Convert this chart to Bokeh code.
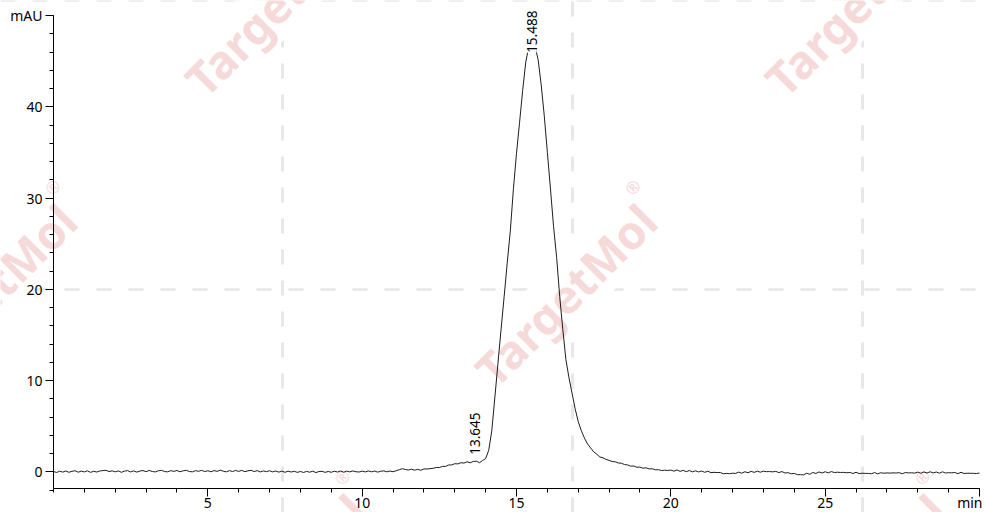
import math
from bokeh.plotting import figure
from bokeh.models import Range1d, FixedTicker, Label
from bokeh.models import ColumnDataSource
from bokeh.embed import file_html
from bokeh.resources import INLINE

# ---------------- data ----------------
time_min = [
    0.0, 0.1, 0.2, 0.3, 0.4, 0.5, 0.6, 0.7, 0.8, 0.9,
    1.0, 1.1, 1.2, 1.3, 1.4, 1.5, 1.6, 1.7, 1.8, 1.9,
    2.0, 2.1, 2.2, 2.3, 2.4, 2.5, 2.6, 2.7, 2.8, 2.9,
    3.0, 3.1, 3.2, 3.3, 3.4, 3.5, 3.6, 3.7, 3.8, 3.9,
    4.0, 4.1, 4.2, 4.3, 4.4, 4.5, 4.6, 4.7, 4.8, 4.9,
    5.0, 5.1, 5.2, 5.3, 5.4, 5.5, 5.6, 5.7, 5.8, 5.9,
    6.0, 6.1, 6.2, 6.3, 6.4, 6.5, 6.6, 6.7, 6.8, 6.9,
    7.0, 7.1, 7.2, 7.3, 7.4, 7.5, 7.6, 7.7, 7.8, 7.9,
    8.0, 8.1, 8.2, 8.3, 8.4, 8.5, 8.6, 8.7, 8.8, 8.9,
    9.0, 9.1, 9.2, 9.3, 9.4, 9.5, 9.6, 9.7, 9.8, 9.9,
    10.0, 10.1, 10.2, 10.3, 10.4, 10.5, 10.6, 10.7, 10.8, 10.9,
    11.0, 11.1, 11.2, 11.3, 11.4, 11.5, 11.6, 11.7, 11.8, 11.9,
    12.0, 12.1, 12.2, 12.3, 12.4, 12.5, 12.6, 12.7, 12.8, 12.9,
    13.0, 13.1, 13.2, 13.3, 13.4, 13.5, 13.6, 13.7, 13.8, 13.9,
    14.0, 14.1, 14.2, 14.3, 14.4, 14.5, 14.6, 14.7, 14.8, 14.9,
    15.0, 15.1, 15.2, 15.3, 15.4, 15.5, 15.6, 15.7, 15.8, 15.9,
    16.0, 16.1, 16.2, 16.3, 16.4, 16.5, 16.6, 16.7, 16.8, 16.9,
    17.0, 17.1, 17.2, 17.3, 17.4, 17.5, 17.6, 17.7, 17.8, 17.9,
    18.0, 18.1, 18.2, 18.3, 18.4, 18.5, 18.6, 18.7, 18.8, 18.9,
    19.0, 19.1, 19.2, 19.3, 19.4, 19.5, 19.6, 19.7, 19.8, 19.9,
    20.0, 20.1, 20.2, 20.3, 20.4, 20.5, 20.6, 20.7, 20.8, 20.9,
    21.0, 21.1, 21.2, 21.3, 21.4, 21.5, 21.6, 21.7, 21.8, 21.9,
    22.0, 22.1, 22.2, 22.3, 22.4, 22.5, 22.6, 22.7, 22.8, 22.9,
    23.0, 23.1, 23.2, 23.3, 23.4, 23.5, 23.6, 23.7, 23.8, 23.9,
    24.0, 24.1, 24.2, 24.3, 24.4, 24.5, 24.6, 24.7, 24.8, 24.9,
    25.0, 25.1, 25.2, 25.3, 25.4, 25.5, 25.6, 25.7, 25.8, 25.9,
    26.0, 26.1, 26.2, 26.3, 26.4, 26.5, 26.6, 26.7, 26.8, 26.9,
    27.0, 27.1, 27.2, 27.3, 27.4, 27.5, 27.6, 27.7, 27.8, 27.9,
    28.0, 28.1, 28.2, 28.3, 28.4, 28.5, 28.6, 28.7, 28.8, 28.9,
    29.0, 29.1, 29.2, 29.3, 29.4, 29.5, 29.6, 29.7, 29.8, 29.9,
    30.0,
]
signal_mau = [
    0.03, -0.08, 0.06, -0.04, 0.09, -0.06, 0.05, 0.11, -0.05, 0.07,
    -0.02, 0.10, -0.07, 0.05, -0.03, 0.08, 0.13, 0.16, 0.02, 0.10,
    -0.01, 0.09, -0.06, 0.07, 0.12, -0.02, 0.09, -0.04, 0.08, 0.13,
    0.01, 0.14, 0.03, -0.02, 0.11, 0.15, 0.02, -0.01, 0.12, 0.04,
    0.14, 0.00, 0.10, 0.16, 0.03, -0.01, 0.12, 0.05, 0.15, 0.02,
    0.11, 0.00, 0.13, 0.04, 0.17, 0.06, -0.01, 0.12, 0.03, 0.14,
    0.04, 0.15, 0.01, 0.10, 0.16, 0.02, 0.12, -0.02, 0.09, 0.01,
    0.11, -0.01, 0.08, -0.04, 0.07, -0.06, 0.06, -0.03, 0.05, -0.07,
    0.03, -0.08, 0.04, -0.05, 0.06, -0.09, 0.02, 0.05, -0.07, 0.03,
    -0.06, 0.06, -0.03, 0.08, -0.05, 0.07, -0.02, 0.09, 0.00, -0.03,
    0.07, -0.02, 0.09, -0.01, 0.08, -0.04, 0.05, 0.10, -0.01, 0.08,
    0.00, 0.11, 0.22, 0.33, 0.25, 0.19, 0.28, 0.17, 0.26, 0.16,
    0.31, 0.30, 0.34, 0.38, 0.47, 0.46, 0.59, 0.58, 0.74, 0.75,
    0.88, 0.86, 0.99, 0.95, 1.10, 0.98, 1.13, 1.16, 0.99, 1.22,
    1.45, 2.35, 4.50, 8.20, 11.90, 15.60, 19.20, 22.90, 26.40, 31.00,
    34.90, 38.30, 41.80, 44.90, 46.60, 47.00, 46.60, 45.20, 42.40, 39.00,
    35.00, 31.00, 26.90, 23.50, 19.20, 15.60, 12.30, 10.30, 8.60, 6.90,
    5.50, 4.50, 3.70, 3.05, 2.62, 2.18, 1.92, 1.62, 1.53, 1.35,
    1.25, 1.12, 1.09, 0.96, 0.93, 0.79, 0.75, 0.61, 0.63, 0.49,
    0.51, 0.39, 0.43, 0.31, 0.33, 0.21, 0.23, 0.13, 0.17, 0.14,
    0.19, 0.06, 0.20, 0.04, 0.15, 0.01, 0.13, -0.01, 0.10, -0.02,
    0.08, -0.06, 0.06, -0.10, -0.06, -0.09, -0.08, -0.22, -0.18, -0.21,
    -0.16, -0.18, -0.04, -0.16, 0.00, -0.11, 0.04, -0.07, 0.07, -0.05,
    0.06, 0.01, 0.02, -0.01, 0.04, -0.09, 0.02, -0.14, -0.10, -0.22,
    -0.18, -0.32, -0.32, -0.34, -0.16, -0.28, -0.08, -0.19, -0.02, -0.14,
    0.00, -0.12, 0.02, -0.09, -0.05, -0.08, -0.07, -0.11, -0.08, -0.19,
    -0.06, -0.20, -0.16, -0.18, -0.18, -0.22, -0.09, -0.23, -0.11, -0.16,
    -0.13, -0.15, -0.12, -0.14, -0.10, -0.22, -0.08, -0.13, -0.11, -0.15,
    -0.04, -0.17, -0.02, -0.14, 0.00, -0.13, -0.03, -0.16, -0.01, -0.14,
    -0.10, -0.12, -0.08, -0.21, -0.06, -0.19, -0.16, -0.17, -0.17, -0.20,
    -0.14,
]
peak_times = [13.645, 15.488]
peak_heights = [1.1, 47.0]
peak_names = ["13.645", "15.488"]

x_ticks = [5, 10, 15, 20, 25, 30]
x_tick_labels = ["5", "10", "15", "20", "25", ""]
x_minor_ticks = list(range(0, 31))
x_unit = "min"
y_ticks = [0, 10, 20, 30, 40, 50]
y_tick_labels = ["0", "10", "20", "30", "40", "mAU"]
y_minor_ticks = list(range(-2, 51, 2))
watermark_text = "TargetMol"

# ---------------- layout constants (pixels) ----------------
W, H = 984, 512
PAD_L, PAD_R, PAD_T = 53, 5, 15          # axis corner / ends in canvas px
X0, X1 = 0.0, 30.0                          # time axis extent
Y0, Y1 = -1.86, 50.0                        # signal axis extent
PPX = (W - PAD_L - PAD_R) / (X1 - X0)      # px per minute
PPY = 9.125                                 # px per mAU
FONT = "Noto Sans"
WM_COLOR = "#f6d9d9"

x_range = Range1d(X0 - PAD_L / PPX, X1 + PAD_R / PPX)
y_range = Range1d(Y1 - (H - PAD_T) / PPY, Y1 + PAD_T / PPY)

p = figure(width=W, height=H, output_backend="svg", toolbar_location=None,
           x_range=x_range, y_range=y_range,
           min_border=0, min_border_left=0, min_border_right=0,
           min_border_top=0, min_border_bottom=0)
p.outline_line_color = None
p.background_fill_color = "white"
p.border_fill_color = "white"

# watermark grid: light dashed lines (via the plot grids)
p.xgrid.ticker = FixedTicker(ticks=[7.42, 16.81, 26.2])
p.xgrid.grid_line_color = "#e8e8e8"
p.xgrid.grid_line_width = 3
p.xgrid.grid_line_dash = "15 16"
p.ygrid.ticker = FixedTicker(ticks=[20, Y1 + 1.6])
p.ygrid.grid_line_color = "#e6e6e6"
p.ygrid.grid_line_width = 2.5
p.ygrid.grid_line_dash = "15 17"
p.ygrid.bounds = (X0, X1 + PAD_R / PPX)

# watermarks (opaque white box, pink text), above grid, below the trace
wm_centres = [(16.59, 19.4), (-2.2, 19.4), (7.19, 51.2), (25.98, 51.2),
              (7.19, -12.4), (25.98, -12.4)]
for cx, cy in wm_centres:
    p.add_layout(Label(x=cx, y=cy, text=watermark_text, angle=math.radians(45),
                       text_align="center", text_baseline="middle",
                       text_font=FONT, text_font_style="bold",
                       text_font_size="46px", text_color=WM_COLOR,
                       background_fill_color="white",
                       level="underlay"))
    p.add_layout(Label(x=cx + 2.17, y=cy + 11.8, text="®",
                       text_align="center", text_baseline="middle",
                       text_font=FONT, text_font_size="17px",
                       text_color=WM_COLOR, angle=math.radians(45),
                       level="underlay"))

# chromatogram trace
src = ColumnDataSource(data=dict(t=time_min, s=signal_mau))
p.line("t", "s", source=src, line_color="#1e1e1e", line_width=1)

# axes drawn at fixed data locations inside the full-canvas frame
ax = p.xaxis[0]
ax.fixed_location = Y0
ax.bounds = (X0, X1)
ax.ticker = FixedTicker(ticks=x_ticks, minor_ticks=x_minor_ticks)
ax.major_label_overrides = {t: l for t, l in zip(x_ticks, x_tick_labels)}
ax.major_label_standoff = 1
ay = p.yaxis[0]
ay.fixed_location = X0
ay.bounds = (Y0, Y1)
ay.ticker = FixedTicker(ticks=y_ticks, minor_ticks=y_minor_ticks)
ay.major_label_overrides = {t: l for t, l in zip(y_ticks, y_tick_labels)}
ay.major_label_standoff = 3
for a in (ax, ay):
    a.axis_line_color = "black"
    a.axis_line_width = 1
    a.major_tick_line_color = "black"
    a.minor_tick_line_color = "black"
    a.major_tick_in = 0
    a.major_tick_out = 8
    a.minor_tick_in = 0
    a.minor_tick_out = 4
    a.major_label_text_font = FONT
    a.major_label_text_font_size = "14px"
    a.major_label_text_color = "black"

# unit label at the end of the time axis
p.add_layout(Label(x=X1 + 3 / PPX, y=Y0 - 13.5 / PPY, text=x_unit,
                   text_align="right", text_baseline="middle", text_font=FONT,
                   text_font_size="14px", text_color="black"))

# peak labels (rotated; white box hides the trace behind)
LABEL_LEN = 41 / PPY
for t, h, name in zip(peak_times, peak_heights, peak_names):
    ly = h + 0.76
    if ly + LABEL_LEN > Y1:
        ly = Y1 + 0.4 - LABEL_LEN
    p.add_layout(Label(x=t, y=ly, text=name, angle=math.pi / 2,
                       text_align="left", text_baseline="middle",
                       text_font=FONT, text_font_size="13.5px",
                       text_color="black", background_fill_color="white"))

open("out.html", "w").write(file_html(p, INLINE))
